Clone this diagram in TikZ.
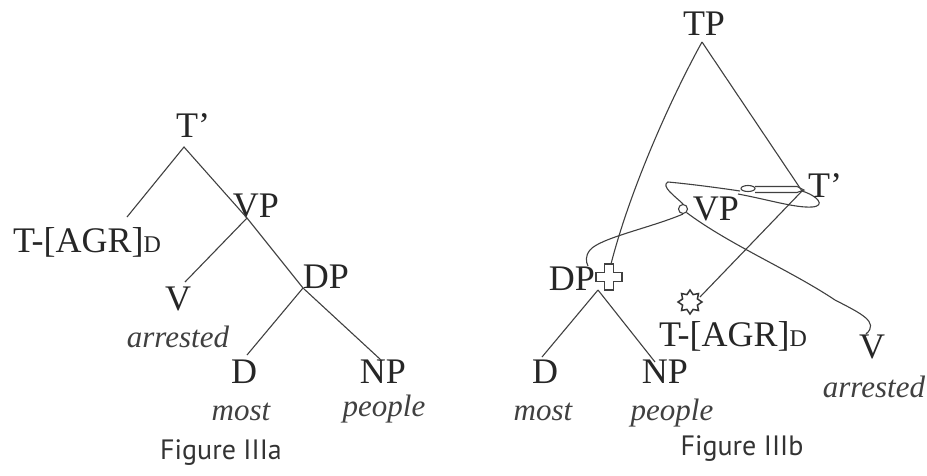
\documentclass[tikz,border=0pt]{standalone}
\usepackage{fontspec}
\setmainfont{Liberation Serif}
\newfontfamily\capfont{PT Sans}
\usetikzlibrary{shapes.geometric}
\newcommand\agrD{{\fontsize{24}{24}\selectfont D}}
\begin{document}
\begin{tikzpicture}[x=1pt,y=-1pt,
  lab/.style={anchor=base,inner sep=0pt,font=\fontsize{36}{36}\selectfont,text=black!85},
  word/.style={anchor=base,inner sep=0pt,font=\fontsize{31}{31}\selectfont\itshape,text=black!75},
  figcaption/.style={anchor=base,inner sep=0pt,font=\fontsize{28}{28}\selectfont\capfont,text=black!80},
  edge/.style={line width=1.1pt,draw=black!75},
]
\useasboundingbox (0,0) rectangle (927,475);

% ---------------- Figure IIIa ----------------
\node[lab] (aT)   at (193,137) {T’};
\node[lab] (aAGR) at (87,252)  {T-[AGR]\agrD};
\node[lab] (aVP)  at (256,217) {VP};
\node[lab] (aV)   at (178,310) {V};
\node[word] (aarr) at (178,347) {arrested};
\node[lab] (aDP)  at (326,288) {DP};
\node[lab] (aD)   at (244,383) {D};
\node[lab] (aNP)  at (383,383) {NP};
\node[word] (amost) at (241,420) {most};
\node[word] (apeople) at (384,416) {people};
\node[figcaption] (acap) at (221,459) {Figure IIIa};

\coordinate (aTj)   at (184,147);
\coordinate (aAGRt) at (127,217);
\coordinate (aVPj)  at (247,218);
\coordinate (aVt)   at (185,282);
\coordinate (aDPj)  at (303,288);
\coordinate (aDt)   at (247,355);
\coordinate (aNPt)  at (381,360);

\draw[edge] (aAGRt) -- (aTj) -- (aVPj) -- (aDPj) -- (aNPt);
\draw[edge] (aVPj) -- (aVt);
\draw[edge] (aDPj) -- (aDt);

% ---------------- Figure IIIb ----------------
\node[lab] (bTP)  at (704,35)  {TP};
\node[lab] (bT)   at (825,197) {T’};
\node[lab] (bVP)  at (716,220) {VP};
\node[lab] (bDP)  at (572,290) {DP};
\node[lab] (bD)   at (545,383) {D};
\node[lab] (bNP)  at (665,383) {NP};
\node[word] (bmost) at (543,420) {most};
\node[word] (bpeople) at (672,420) {people};
\node[lab] (bAGR) at (733,346) {T-[AGR]\agrD};
\node[lab] (bV)   at (872,358) {V};
\node[word] (barr) at (874,397) {arrested};
\node[figcaption] (bcap) at (742,455) {Figure IIIb};

\coordinate (bTPj) at (702,42);
\coordinate (bTj)  at (802,191);
\coordinate (bCrossTop) at (611,264);
\coordinate (bDPj) at (598,290);
\coordinate (bDt)  at (542,357);
\coordinate (bNPt) at (655,362);
\coordinate (bStarIn) at (700,297);

% VP circle marker
\node[circle,draw=black!75,line width=1.1pt,minimum size=9pt,inner sep=0pt] (bCirc) at (683,209) {};
% cross marker
\draw[edge] (604.5,264)--(613.5,264)--(613.5,272.5)--(622,272.5)--(622,281.5)--(613.5,281.5)--(613.5,290)--(604.5,290)--(604.5,281.5)--(596,281.5)--(596,272.5)--(604.5,272.5)--cycle;
% star marker
\node[star,star points=8,star point ratio=1.5,draw=black!80,line width=1.5pt,minimum size=24pt,inner sep=0pt] (bStar) at (690,302) {};

% tree edges
\draw[edge] (bTPj) -- (bTj);
\draw[edge] (bTPj) .. controls (670,100) and (630,190) .. (bCrossTop);
\draw[edge] (bTj) -- (bStarIn);
\draw[edge] (bDPj) -- (bDt);
\draw[edge] (bDPj) -- (bNPt);
% VP to DP
\draw[edge] (bCirc.south) .. controls (650,228) and (600,238) .. (590,250) .. controls (585,256) and (586,262) .. (588,266);
% VP to V
\draw[edge] (bCirc.south east) .. controls (730,245) and (790,270) .. (835,300) .. controls (860,313) and (880,322) .. (866,334);
% loops around VP and T'
\draw[edge] (bCirc.north) .. controls (676,197) and (660,186) .. (668,182) .. controls (690,184) and (720,188) .. (740,191);
\draw[edge] (748,188.5) ellipse (7pt and 3pt);
\draw[edge] (755,186.5) -- (797,186.5) -- (804,190) -- (797,192.5) -- (755,192.5);
\draw[edge] (738,194) .. controls (770,200) and (795,208) .. (812,207) .. controls (826,206) and (818,196) .. (bTj);
\end{tikzpicture}
\end{document}
